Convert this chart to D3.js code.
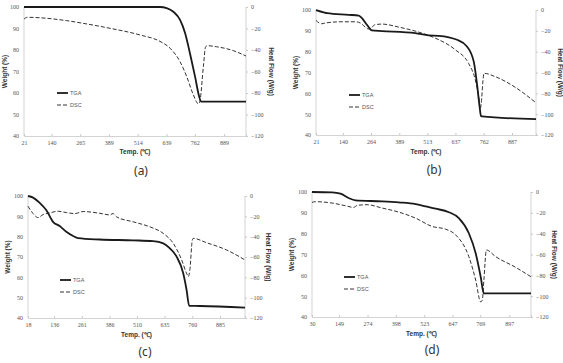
<!DOCTYPE html>
<html>
<head>
<meta charset="utf-8">
<script src="https://cdn.jsdelivr.net/npm/d3@7"></script>
<style>
  body { margin: 0; background: #fff; }
  svg { display: block; }
  .tick text { font-family: "Liberation Serif", serif; font-size: 6px; fill: #555; }
  .ttl { font-family: "Liberation Sans", Arial, sans-serif; font-size: 6.5px; font-weight: bold; fill: #333; }
  .leg { font-family: "Liberation Sans", Arial, sans-serif; font-size: 5.5px; fill: #555; }
  .cap { font-family: "Noto Sans", sans-serif; font-size: 12px; fill: #333; }
</style>
</head>
<body>
<div id="chart"></div>
<script>
// data: [temperature, value]
var tgaA = [[21,100],[611,100],[640,99.5],[669,97.8],[698,94],[720,87.8],[741,78.4],[763,67.6],[781,58.3],[789,56],[984,56]];
var dscA = [[21,-11.2],[35,-9.6],[206,-12.7],[278,-15.2],[394,-19.8],[524,-26],[611,-32],[655,-38.4],[698,-50.9],[727,-64.8],[756,-81.9],[778,-90.2],[785,-86.5],[799,-55.5],[809,-36.9],[817,-36],[857,-37],[929,-40.6],[984,-45.6]];
var ticksA = [21,140,265,389,514,639,762,889];

var tgaB = [[21,100],[55,98.9],[70,98.5],[165,97.7],[210,97.3],[224,96.1],[246,92.9],[268,90.2],[313,89.9],[460,88.9],[519,87.8],[563,87.6],[644,85.7],[688,82.5],[718,75.2],[732,64.8],[744,53.5],[750,49],[755,48.9],[993,47.6]];
var dscB = [[21,-10],[45,-13.2],[62,-12.5],[136,-11.3],[195,-11.3],[217,-12.5],[239,-16.4],[254,-18.3],[265,-17.4],[280,-14.2],[313,-13.5],[386,-16.4],[489,-22.2],[548,-27],[637,-38.3],[695,-51.2],[725,-67.2],[740,-83.3],[747,-94.6],[751,-89.8],[759,-67.2],[763,-60.8],[813,-64],[902,-74.3],[993,-89.1]];
var ticksB = [21,140,264,389,513,637,762,887];

var tgaC = [[18,100],[41,99.2],[71,96.6],[101,93],[131,87.3],[161,85.2],[191,82.4],[222,80.3],[244,79.3],[342,78.6],[493,78.2],[583,77.8],[629,76.7],[659,74.2],[689,70.2],[719,62],[734,53.9],[746,46],[794,45.9],[998,45.1]];
var dscC = [[18,-10.1],[41,-17.3],[63,-21.2],[86,-18.3],[116,-16.6],[154,-15],[191,-16.3],[229,-17.3],[267,-15.3],[342,-17],[387,-18.6],[402,-17.3],[418,-20.5],[493,-25.4],[568,-30.3],[629,-36.8],[674,-46.6],[712,-62.9],[734,-76],[742,-79.2],[749,-72.7],[760,-43.4],[764,-41.7],[825,-46],[915,-53.1],[998,-62.9]];
var ticksC = [18,136,261,386,510,635,760,885];

var tgaD = [[30,100],[118,99.8],[155,99.2],[191,97.1],[221,96],[338,95.5],[411,95],[485,94.2],[529,93.1],[573,92],[631,90.3],[675,87.5],[719,80.2],[749,70.6],[771,59.3],[785,51.3],[992,51.3]];
var dscD = [[30,-10],[45,-9.3],[118,-10.6],[177,-13.2],[213,-14.8],[228,-12.9],[272,-12.2],[338,-15.4],[411,-19.3],[485,-25.1],[558,-33.1],[617,-35.7],[661,-41.2],[719,-62.1],[749,-84.6],[771,-105.5],[778,-103.9],[785,-84.6],[796,-55.7],[837,-62.1],[925,-72.4],[992,-81.4]];
var ticksD = [30,149,274,398,523,647,769,897];

var weightTicks = [40,50,60,70,80,90,100];
var heatTicks = [-120,-100,-80,-60,-40,-20,0];
var captions = ["(a)","(b)","(c)","(d)"];

var panels = [
    {tga: tgaA, dsc: dscA, ticks: ticksA, cap: captions[0], l: 24, r: 246, t: 7, b: 136, xmax: 984,
     yt: 5, rt: 271, xt: 154, cx: 141, cy: 175, lx: 57, ly: 93},
    {tga: tgaB, dsc: dscB, ticks: ticksB, cap: captions[1], l: 316, r: 536, t: 10, b: 135, xmax: 993,
     yt: 296, rt: 560, xt: 154, cx: 434, cy: 174, lx: 349, ly: 95},
    {tga: tgaC, dsc: dscC, ticks: ticksC, cap: captions[2], l: 28, r: 245, t: 196, b: 318, xmax: 998,
     yt: 8, rt: 268, xt: 337, cx: 145, cy: 356, lx: 60, ly: 280},
    {tga: tgaD, dsc: dscD, ticks: ticksD, cap: captions[3], l: 312, r: 531, t: 192, b: 317, xmax: 992,
     yt: 292, rt: 554, xt: 336, cx: 432, cy: 354, lx: 344, ly: 277}
];

var svg = d3.select("#chart").append("svg")
    .attr("width", 563)
    .attr("height", 363);

panels.forEach(function(p) {
    var x = d3.scaleLinear().domain([p.ticks[0], p.xmax]).range([p.l, p.r]);
    var yL = d3.scaleLinear().domain([40, 100]).range([p.b, p.t]);
    var yR = d3.scaleLinear().domain([-120, 0]).range([p.b, p.t]);

    var g = svg.append("g");

    var xAxis = g.append("g")
        .attr("transform", "translate(0," + p.b + ")")
        .call(d3.axisBottom(x).tickValues(p.ticks).tickSize(-2).tickPadding(5).tickFormat(d3.format("d")));
    var leftAxis = g.append("g")
        .attr("transform", "translate(" + p.l + ",0)")
        .call(d3.axisLeft(yL).tickValues(weightTicks).tickSize(0).tickPadding(5));
    var rightAxis = g.append("g")
        .attr("transform", "translate(" + p.r + ",0)")
        .call(d3.axisRight(yR).tickValues(heatTicks).tickSize(2).tickPadding(3));

    [xAxis, leftAxis, rightAxis].forEach(function(a) {
        a.select(".domain").attr("stroke", "#c8c8c8").attr("stroke-width", 0.8);
        a.selectAll(".tick line").attr("stroke", "#c8c8c8");
    });
    leftAxis.select(".domain").attr("d", "M0," + p.b + "V" + p.t);
    rightAxis.select(".domain").attr("d", "M0," + p.b + "V" + p.t);

    var tgaLine = d3.line().x(function(d) { return x(d[0]); }).y(function(d) { return yL(d[1]); }).curve(d3.curveMonotoneX);
    var dscLine = d3.line().x(function(d) { return x(d[0]); }).y(function(d) { return yR(d[1]); }).curve(d3.curveMonotoneX);

    g.append("path").datum(p.dsc)
        .attr("d", dscLine)
        .attr("fill", "none")
        .attr("stroke", "#333")
        .attr("stroke-width", 1)
        .attr("stroke-dasharray", "4,2");

    g.append("path").datum(p.tga)
        .attr("d", tgaLine)
        .attr("fill", "none")
        .attr("stroke", "#1a1a1a")
        .attr("stroke-width", 1.8);

    // legend
    g.append("line").attr("x1", p.lx).attr("x2", p.lx + 11).attr("y1", p.ly).attr("y2", p.ly)
        .attr("stroke", "#1a1a1a").attr("stroke-width", 1.8);
    g.append("text").attr("class", "leg").attr("x", p.lx + 13).attr("y", p.ly + 2).text("TGA");
    g.append("line").attr("x1", p.lx).attr("x2", p.lx + 11).attr("y1", p.ly + 12).attr("y2", p.ly + 12)
        .attr("stroke", "#333").attr("stroke-width", 1).attr("stroke-dasharray", "4,2");
    g.append("text").attr("class", "leg").attr("x", p.lx + 13).attr("y", p.ly + 14).text("DSC");

    // titles
    g.append("text").attr("class", "ttl").attr("text-anchor", "middle")
        .attr("x", (p.l + p.r) / 2).attr("y", p.xt).text("Temp. (℃)");
    g.append("text").attr("class", "ttl").attr("text-anchor", "middle")
        .attr("transform", "translate(" + p.yt + "," + (p.t + p.b) / 2 + ") rotate(-90)")
        .attr("dy", "0.35em").text("Weight (%)");
    g.append("text").attr("class", "ttl").attr("text-anchor", "middle")
        .attr("transform", "translate(" + p.rt + "," + (p.t + p.b) / 2 + ") rotate(90)")
        .attr("dy", "0.35em").text("Heat Flow (W/g)");

    g.append("text").attr("class", "cap").attr("text-anchor", "middle")
        .attr("x", p.cx).attr("y", p.cy).text(p.cap);
});
</script>
</body>
</html>
